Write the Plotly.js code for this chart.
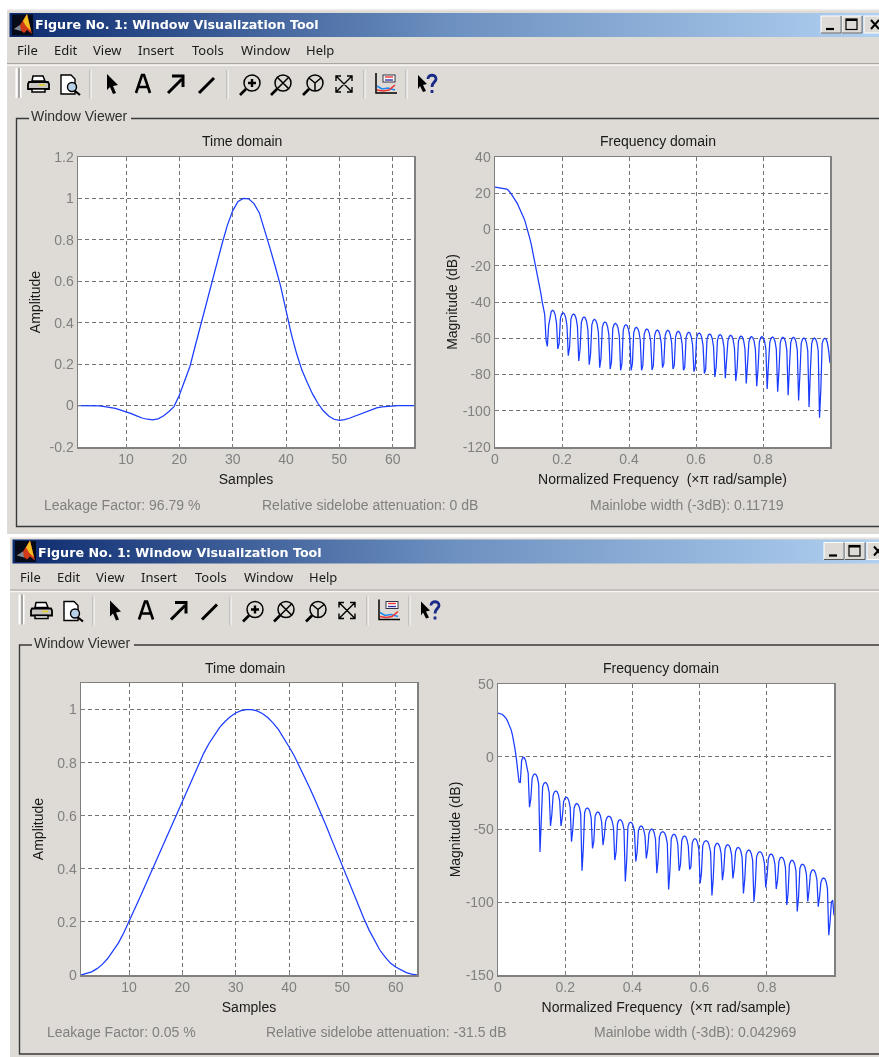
<!DOCTYPE html>
<html><head><meta charset="utf-8">
<script src="https://cdn.plot.ly/plotly-3.0.1.min.js"></script>
<style>html,body{margin:0;padding:0;background:#fff;overflow:hidden}#g{width:879px;height:1057px;filter:blur(0.4px)}</style>
</head><body><div id="g"></div>
<script>
const W=879,H=1057;
// ---------- data ----------
const sampleTicks=[10,20,30,40,50,60];
const freqTicks=[0,0.2,0.4,0.6,0.8];
const freqTickText=['0','0.2','0.4','0.6','0.8'];
const ampTopTicks=[-0.2,0,0.2,0.4,0.6,0.8,1,1.2];
const ampTopText=['-0.2','0','0.2','0.4','0.6','0.8','1','1.2'];
const ampBottomTicks=[0,0.2,0.4,0.6,0.8,1];
const ampBottomText=['0','0.2','0.4','0.6','0.8','1'];
const magTopTicks=[-120,-100,-80,-60,-40,-20,0,20,40];
const magTopText=['-120','-100','-80','-60','-40','-20','0','20','40'];
const magBottomTicks=[-150,-100,-50,0,50];
const magBottomText=['-150','-100','-50','0','50'];
const samples=[1,2,3,4,5,6,7,8,9,10,11,12,13,14,15,16,17,18,19,20,21,22,23,24,25,26,27,28,29,30,31,32,33,34,35,36,37,38,39,40,41,42,43,44,45,46,47,48,49,50,51,52,53,54,55,56,57,58,59,60,61,62,63,64];
const timeTop=[0,0,0,0,-0.002,-0.005,-0.008,-0.014,-0.022,-0.03,-0.039,-0.05,-0.06,-0.066,-0.069,-0.064,-0.05,-0.03,-0.005,0.05,0.12,0.19,0.29,0.39,0.485,0.58,0.68,0.78,0.87,0.94,0.985,1.0,0.998,0.975,0.93,0.85,0.76,0.67,0.575,0.46,0.345,0.25,0.17,0.11,0.055,0.01,-0.025,-0.05,-0.066,-0.071,-0.068,-0.06,-0.05,-0.039,-0.029,-0.019,-0.011,-0.006,-0.003,-0.002,0,0,0,0];
const timeBottom=[0,.005,.012,.024,.04,.062,.09,.12,.158,.2,.245,.29,.335,.38,.425,.475,.52,.565,.61,.655,.70,.745,.79,.835,.872,.905,.933,.955,.973,.987,.996,1,1,.995,.985,.97,.95,.925,.895,.86,.825,.785,.745,.70,.655,.61,.56,.51,.46,.41,.36,.31,.26,.215,.17,.13,.095,.068,.045,.03,.018,.009,.003,0];
const freqTop=[23.4,23.3,23.1,23.1,22.9,22.7,22.7,22.5,22.5,22.3,21.8,21.1,20.1,19,17.9,17,15.9,14.4,12.8,10.9,9.1,7.8,6.3,4.5,2.1,-0.1,-2.9,-6,-9.3,-13,-15.7,-19.4,-22.5,-26.8,-30.4,-35,-39.6,-44.2,-47,-61,
-64.5,-53,-47.6,-45.2,-44.6,-45.1,-47.1,-51.6,
-65.9,-63,-49,-46.6,-46,-46.5,-48.5,-53,
-69.6,-65,-49.6,-47.2,-46.6,-47.1,-49.1,-53.6,
-72.5,-66,-51.3,-48.9,-48.3,-48.8,-50.8,-55.3,
-74.6,-69,-52.6,-50.2,-49.6,-50.1,-52.1,-56.6,
-76.2,-71,-54,-51.6,-51,-51.5,-53.5,-58,
-77,-73,-54.8,-52.4,-51.8,-52.3,-54.3,-58.8,
-77.7,-74,-55.5,-53.1,-52.5,-53,-55,-59.5,
-77.7,-74,-57,-54.6,-54,-54.5,-56.5,-61,
-77.7,-75,-57.9,-55.5,-54.9,-55.4,-57.4,-61.9,
-77.5,-75,-58.5,-56.1,-55.5,-56,-58,-62.5,
-76.2,-74,-58.6,-56.2,-55.6,-56.1,-58.1,-62.6,
-77,-75,-59.2,-56.8,-56.2,-56.7,-58.7,-63.2,
-77.7,-76,-59.7,-57.3,-56.7,-57.2,-59.2,-63.7,
-78.4,-76,-60.1,-57.7,-57.1,-57.6,-59.6,-64.1,
-79.5,-77,-60.7,-58.3,-57.7,-58.2,-60.2,-64.7,
-81.4,-76,-61,-58.6,-58,-58.5,-60.5,-65,
-82.1,-74,-61.4,-59,-58.4,-58.9,-60.9,-65.4,
-83.6,-77,-61.8,-59.4,-58.8,-59.3,-61.3,-65.8,
-85,-74,-62.1,-59.7,-59.1,-59.6,-61.6,-66.1,
-86.5,-77,-62.1,-59.7,-59.1,-59.6,-61.6,-66.1,
-88,-74,-62.3,-59.9,-59.3,-59.8,-61.8,-66.3,
-89.5,-78,-62.5,-60.1,-59.5,-60,-62,-66.5,
-91.5,-76,-62.5,-60.1,-59.5,-60,-62,-66.5,
-94.3,-80,-62.9,-60.5,-59.9,-60.4,-62.4,-66.9,
-97.9,-78,-62.9,-60.5,-59.9,-60.4,-62.4,-66.9,
-103.8,-88,-63,-60.6,-60,-60.5,-62.5,-67,
-73.6];
const freqBottom=[30,29.9,29.7,29.2,28.5,27.6,26.5,25,23.2,21,18.5,15,11,5,-1.5,-9,
-17.2,-17.8,-2.5,-0.4,-0.6,-2.5,-6,-11.5,
-34.7,-29,-14.8,-12.4,-11.8,-12.3,-14.3,-18.8,
-65.5,-47.6,-20.7,-18.3,-17.7,-18.2,-20.2,-24.7,
-47.6,-40,-26.5,-24.1,-23.5,-24,-26,-30.5,
-47.6,-41.6,-30.8,-28.4,-27.8,-28.3,-30.3,-34.8,
-58.4,-50,-35.2,-32.8,-32.2,-32.7,-34.7,-39.2,
-78.4,-63,-38.2,-35.8,-35.2,-35.7,-37.7,-42.2,
-63,-58.4,-41,-38.6,-38,-38.5,-40.5,-45,
-60.7,-54.5,-44.4,-41.9,-41,-41,-41.9,-44.4,-48.9,
-71,-65.3,-46.2,-43.8,-43.2,-43.7,-45.7,-50.2,
-85.7,-72,-48,-45.6,-45,-45.5,-47.5,-52,
-72,-65.3,-50.6,-48.2,-47.6,-48.1,-50.1,-54.6,
-69.9,-64,-52.7,-50.3,-49.7,-50.2,-52.2,-56.7,
-80,-71,-55,-52.5,-51.6,-51.6,-52.5,-55,-59.5,
-91.2,-78,-56.3,-53.9,-53.3,-53.8,-55.8,-60.3,
-78.4,-74.4,-57.5,-55.1,-54.5,-55,-57,-61.5,
-77.4,-75.6,-59.3,-56.9,-56.3,-56.8,-58.8,-63.3,
-87,-80,-61.2,-58.7,-57.8,-57.8,-58.7,-61.2,-65.7,
-95.3,-83.6,-62.5,-60.1,-59.5,-60,-62,-66.5,
-84.8,-78,-63.4,-61,-60.4,-60.9,-62.9,-67.4,
-83.6,-77,-65.3,-62.9,-62.3,-62.8,-64.8,-69.3,
-94,-84.3,-67.1,-64.7,-64.1,-64.6,-66.6,-71.1,
-99.7,-89,-68.8,-66.3,-65.4,-65.4,-66.3,-68.8,-73.3,
-89.9,-82,-69.9,-67.5,-66.9,-67.4,-69.4,-73.9,
-90.8,-84.8,-72,-69.6,-69,-69.5,-71.5,-76,
-101.8,-94,-74.2,-71.8,-71.2,-71.7,-73.7,-78.2,
-106.4,-96.3,-76.8,-74.4,-73.8,-74.3,-76.3,-80.8,
-99.5,-91.7,-80.7,-78.3,-77.7,-78.2,-80.2,-84.7,
-103,-96.3,-86.4,-84,-83.4,-83.9,-85.9,-90.4,
-122.7,-113.5,-100,-98.6,-109];
const binsPerUnit=256;
const freqAxisTop=freqTop.map((_,i)=>i/binsPerUnit);
const freqAxisBottom=freqBottom.map((_,i)=>i/binsPerUnit);
const menuItems=[['File',0],['Edit',37],['View',76],['Insert',121],['Tools',175],['Window',224],['Help',289]];
const statsTop=['Leakage Factor: 96.79 %','Relative sidelobe attenuation: 0 dB','Mainlobe width (-3dB): 0.11719'];
const statsBottom=['Leakage Factor: 0.05 %','Relative sidelobe attenuation: -31.5 dB','Mainlobe width (-3dB): 0.042969'];

// plot boxes in page pixels: x0,x1,y0,y1
const boxes=[[78,414,157,447],[495,830,157,447],[81,417,683,975],[498,834,684,975]];

// ---------- window chrome, one backdrop image ----------
function icons(){return `
<g fill="none" stroke="#000">
 <g transform="translate(28,74)"><path d="M5 2h10l2 5H4z" fill="#fff" stroke-width="1.5"/><path d="M1 8h19l1 2v5H0v-5z" fill="#c8c6c2" stroke-width="1.8"/><path d="M4 15h13v3H4z" fill="#fff" stroke-width="1.5"/><path d="M11 11h6" stroke="#e5d020" stroke-width="1.5"/></g>
 <g transform="translate(60,74)"><path d="M1 1h10l4 4v15H1z" fill="#fff" stroke-width="1.4"/><circle cx="12" cy="13" r="4.5" fill="#b8d0e8" stroke-width="1.4"/><path d="M15 17l5 4" stroke-width="2.2"/></g>
 <path d="M107 74l11 11-5 1 3 7-3 1-3-7-3 3z" fill="#000" stroke="none"/>
 <path d="M136 93l6-18h2l6 18M139 87h9" stroke-width="2.6"/>
 <path d="M168 93l14-14" stroke-width="3"/><path d="M172 76h11v11" stroke-width="3"/>
 <path d="M199 93l15-15" stroke-width="3"/>
 <g stroke-width="1.5"><circle cx="252" cy="83" r="8" fill="none"/><path d="M246 89l-6 6" stroke-width="2.6"/><path d="M252 79v8M248 83h8" stroke-width="2.4"/></g>
 <g stroke-width="1.5"><circle cx="283" cy="83" r="8"/><path d="M277 89l-6 6" stroke-width="2.6"/><path d="M277 77l12 12M289 77l-12 12"/></g>
 <g stroke-width="1.5"><circle cx="315" cy="83" r="8"/><path d="M309 89l-6 6" stroke-width="2.6"/><path d="M315 83l-6-5M315 83l6-5M315 83v8"/></g>
 <g stroke-width="1.4"><path d="M336 76l16 16M352 76l-16 16M336 81v-5h5M347 76h5v5M336 87v5h5M347 92h5v-5"/></g>
 <g transform="translate(375,73)"><path d="M1 0v20h21" stroke-width="1.5"/><rect x="8" y="2" width="12" height="7" fill="#fff" stroke="#334" stroke-width="1"/><path d="M10 4h8" stroke="#e33" stroke-width="1.4"/><path d="M10 7h8" stroke="#33a" stroke-width="1.4"/><path d="M2 13l5 3 6-1 7 2" stroke="#28e" stroke-width="1.6"/><path d="M2 17l6 1 6-1 6-5" stroke="#e33" stroke-width="1.6"/></g>
 <path d="M418 75l9 9-4 1 3 6-3 1-3-6-2 3z" fill="#000" stroke="none"/>
 <path d="M428 79c0-5 8-5 8 0 0 3-4 3-4 8" stroke="#1a2a88" stroke-width="2.8"/><path d="M432 90v3" stroke="#1a2a88" stroke-width="2.8"/>
</g>`;}
function win(dx,dy,top,bottom,frameBottom){return `
<g transform="translate(${dx},${dy})">
 <rect x="7" y="${top}" width="${W}" height="${bottom-top}" fill="#dedbd6"/>
 <rect x="7" y="${top}" width="${W}" height="1.5" fill="#f0eeea"/>
 <rect x="9.5" y="13" width="${W}" height="24" fill="url(#tb)"/>
 <rect x="12" y="14.5" width="21" height="21" fill="#050a18"/>
 <path d="M14 29l6-4 7-11 5 20-5-4-3 3-4-3z" fill="#d03a18"/><path d="M23 21l4-7 4 17-5-5z" fill="#f4c020"/><path d="M14 29l6-4 1 6z" fill="#7a8a98"/>
 <g>
  <rect x="821" y="16" width="19.5" height="17" fill="#dedbd6" stroke="#fff"/><rect x="842" y="16" width="19.5" height="17" fill="#dedbd6" stroke="#fff"/><rect x="864" y="16" width="24" height="17" fill="#dedbd6" stroke="#fff"/>
  <path d="M841 16v17H821M862 16v17H842" stroke="#555" fill="none"/>
  <path d="M826 29h8" stroke="#000" stroke-width="2.2"/>
  <rect x="846" y="19" width="11" height="10.5" fill="none" stroke="#000" stroke-width="1.2"/><path d="M846 20h11" stroke="#000" stroke-width="2"/>
  <path d="M871 20l8 9M879 20l-8 9" stroke="#000" stroke-width="2"/>
 </g>
 <path d="M7 63.5H${W}" stroke="#a8a6a2" stroke-width="1.2"/><path d="M7 65.2H${W}" stroke="#fff" stroke-width="1"/>
 <rect x="15.5" y="68" width="2" height="30" fill="#fff"/><rect x="18" y="68" width="2" height="30" fill="#a8a6a2"/><rect x="20" y="68" width="1.5" height="30" fill="#fff"/>
 ${[90,227,364,406].map(x=>`<path d="M${x} 70v29" stroke="#a8a6a2"/><path d="M${x+1} 70v29" stroke="#fff"/>`).join('')}
 ${icons()}
 <path d="M29 118.5H16.5V${frameBottom}H${W}M131 118.5H${W}" fill="none" stroke="#3a3a3a" stroke-width="1.4"/>
</g>`;}
const chrome=`<svg xmlns="http://www.w3.org/2000/svg" width="${W}" height="${H}" viewBox="0 0 ${W} ${H}">
<defs><linearGradient id="tb" x1="0" x2="1" y1="0" y2="0"><stop offset="0" stop-color="#0c2a6e"/><stop offset="0.5" stop-color="#6c90c0"/><stop offset="1" stop-color="#b2d2f2"/></linearGradient></defs>
<rect width="${W}" height="${H}" fill="#fff"/>
${win(0,0,9,534,526.5)}
${win(3,526.5,10.5,540,527.5)}
${boxes.map(b=>`<rect x="${b[0]}" y="${b[2]}" width="${b[1]-b[0]}" height="${b[3]-b[2]}" fill="#fff"/>`).join('')}
</svg>`;

// ---------- text ----------
const GR='#808080',SANS='Liberation Sans, Arial, sans-serif',UI='Noto Sans, sans-serif';
function T(text,x,y,size,color,anchor,family,weight){return {text,xref:'paper',yref:'paper',x:x/W,y:1-y/H,xanchor:anchor||'left',yanchor:'middle',showarrow:false,
 font:{family:family||SANS,size,color,weight:weight||400},borderpad:0,borderwidth:0};}
const annotations=[];
function winText(dx,dy,stats,sx){
 annotations.push(T('Figure No. 1: Window Visualization Tool',35+dx,25+dy,12.7,'#ffffff','left','DejaVu Sans',700));
 menuItems.forEach(m=>annotations.push(T(m[0],17+dx+m[1],50+dy,13,'#1a1a1a','left',UI)));
 annotations.push(T('Window Viewer',31+dx,116+dy,14,'#303030','left',SANS));
 annotations.push(T('Time domain',242.5+dx,141+dy,14,'#1a1a1a','center'));
 annotations.push(T('Frequency domain',658+dx,141+dy,14,'#1a1a1a','center'));
 stats.forEach((s,i)=>annotations.push(T(s,sx[i],505+dy,14,GR,'left')));
}
winText(0,0,statsTop,[44,262,590]);
winText(3,527,statsBottom,[47,266,594]);

// ---------- axes ----------
const common={showgrid:true,griddash:'4px,3px',gridcolor:'#747474',gridwidth:1,zeroline:false,showline:true,mirror:true,linecolor:GR,linewidth:1.5,
 ticks:'inside',ticklen:3,tickcolor:GR,tickfont:{family:SANS,size:14,color:GR}};
function xAxis(b,range,tickvals,ticktext,title,anchor){return {...common,domain:[b[0]/W,b[1]/W],range,tickmode:'array',tickvals,ticktext,anchor,
 ticklabelstandoff:-1,title:{text:title,font:{family:SANS,size:14,color:'#1a1a1a'},standoff:8}};}
function yAxis(b,range,tickvals,ticktext,title,anchor,standoff){return {...common,domain:[1-b[3]/H,1-b[2]/H],range,tickmode:'array',tickvals,ticktext,anchor,
 title:{text:title,font:{family:SANS,size:14,color:'#1a1a1a'},standoff}};}
const FT='Normalized Frequency  (\u00d7\u03c0 rad/sample)';
const LINE={color:'#1a3cff',width:1.25};
const traces=[
 {x:samples,y:timeTop,xaxis:'x',yaxis:'y',mode:'lines',line:LINE,hoverinfo:'skip'},
 {x:freqAxisTop,y:freqTop,xaxis:'x2',yaxis:'y2',mode:'lines',line:LINE,hoverinfo:'skip'},
 {x:samples,y:timeBottom,xaxis:'x3',yaxis:'y3',mode:'lines',line:LINE,hoverinfo:'skip'},
 {x:freqAxisBottom,y:freqBottom,xaxis:'x4',yaxis:'y4',mode:'lines',line:LINE,hoverinfo:'skip'}
];
const layout={width:W,height:H,margin:{l:0,r:0,t:0,b:0},showlegend:false,paper_bgcolor:'#ffffff',plot_bgcolor:'rgba(0,0,0,0)',annotations,
 images:[{source:'data:image/svg+xml;charset=utf-8,'+encodeURIComponent(chrome),xref:'paper',yref:'paper',x:0,y:1,sizex:1,sizey:1,xanchor:'left',yanchor:'top',sizing:'stretch',layer:'below'}],
 xaxis:xAxis(boxes[0],[1,64],sampleTicks,sampleTicks.map(String),'Samples','y'),
 yaxis:yAxis(boxes[0],[-0.2,1.2],ampTopTicks,ampTopText,'Amplitude','x',5),
 xaxis2:xAxis(boxes[1],[0,1],freqTicks,freqTickText,FT,'y2'),
 yaxis2:yAxis(boxes[1],[-120,40],magTopTicks,magTopText,'Magnitude (dB)','x2',2),
 xaxis3:xAxis(boxes[2],[1,64],sampleTicks,sampleTicks.map(String),'Samples','y3'),
 yaxis3:yAxis(boxes[2],[0,1.1],ampBottomTicks,ampBottomText,'Amplitude','x3',10),
 xaxis4:xAxis(boxes[3],[0,1],freqTicks,freqTickText,FT,'y4'),
 yaxis4:yAxis(boxes[3],[-150,50],magBottomTicks,magBottomText,'Magnitude (dB)','x4',2)
};
Plotly.newPlot('g',traces,layout,{staticPlot:true,displayModeBar:false});
</script></body></html>
